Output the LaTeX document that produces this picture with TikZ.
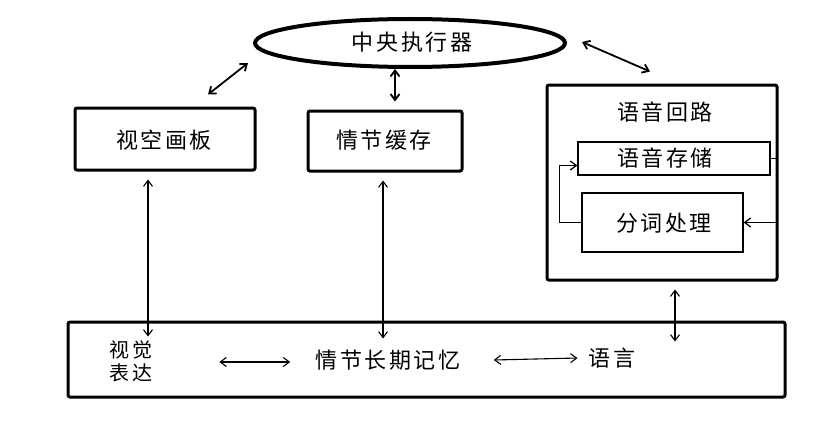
\documentclass[tikz,border=0pt]{standalone}
\usepackage{fontspec}
\newfontfamily\cjk[LetterSpace=12]{Noto Sans CJK SC}
\usetikzlibrary{shapes.geometric,arrows.meta,calc}
\begin{document}
\begin{tikzpicture}[x=1pt,y=-1pt,
  box/.style={draw, line width=3pt, rectangle, inner sep=0pt, rounded corners=2pt},
  thinbox/.style={draw, line width=1.3pt, rectangle, inner sep=0pt},
  lbl/.style={font=\cjk\fontsize{22}{24}\selectfont, inner sep=1pt, align=center},
  tip/.tip={Straight Barb[length=6pt,width=9pt]},
  dbl/.style={{tip}-{tip}, line width=1.1pt},
  dblthick/.style={{tip}-{tip}, line width=1.8pt},
  one/.style={-{tip}, line width=1.3pt}]
\useasboundingbox (0,0) rectangle (813,420);
\fill[white] (0,0) rectangle (813,420);

% central executive
\node[draw, ellipse, line width=4pt, minimum width=310pt, minimum height=48pt, inner sep=0pt] (ce) at (410,43) {};
\node[lbl] (cetext) at (412,42) {中央执行器};

% visuospatial sketchpad
\node[box, minimum width=180pt, minimum height=62pt] (vis) at (165,139) {};
\node[lbl] (vistxt) at (164,140) {视空画板};

% episodic buffer
\node[box, minimum width=154pt, minimum height=60pt] (epi) at (385,141) {};
\node[lbl] (epitxt) at (384,140) {情节缓存};

% phonological loop
\node[box, minimum width=230pt, minimum height=195pt] (phon) at (662,182.5) {};
\node[lbl] (phontxt) at (665,112) {语音回路};
\node[thinbox, minimum width=192pt, minimum height=33pt] (store) at (674,158.5) {};
\node[lbl] (storetxt) at (665,158) {语音存储};
\node[thinbox, minimum width=161pt, minimum height=59pt] (proc) at (662.5,222.5) {};
\node[lbl] (proctxt) at (664,223) {分词处理};

% long-term memory
\node[box, minimum width=717pt, minimum height=75pt] (ltm) at (426.5,359.5) {};
\node[lbl, font=\cjk\fontsize{20}{23}\selectfont] (vrep) at (131,361) {视觉\\表达};
\node[lbl] (ltmtxt) at (388,360) {情节长期记忆};
\node[lbl] (lang) at (612,358) {语言};

% arrows central executive
\draw[dblthick] ([shift={(-162,20)}]ce.center) -- ([shift={(43,-12)}]vis.north);
\draw[dblthick] ([shift={(-15,0)}]ce.south) -- ([shift={(10,-8)}]epi.north);
\draw[dblthick] ([shift={(15,-1)}]ce.east) -- ([shift={(-12,-12)}]phon.north);

% vertical arrows to long-term memory
\draw[dbl] ([shift={(-17,8)}]vis.south) -- ([shift={(-278.5,16)}]ltm.north);
\draw[dbl] ([shift={(-2,8)}]epi.south) -- ([shift={(-43.5,18)}]ltm.north);
\draw[dbl] ([shift={(13,8)}]phon.south) -- ([shift={(248.5,21)}]ltm.north);

% arrows inside long-term memory
\draw[dbl] ([shift={(66,1)}]vrep.east) -- ([shift={(-24,2)}]ltmtxt.west);
\draw[dbl] ([shift={(32,0)}]ltmtxt.east) -- ([shift={(-10,0)}]lang.west);

% loop arrows
\draw[one] (proc.west) -- ++(-22,0) |- ($(store.west)+(0,7)$);
\draw[one] (store.east) -- ++(6,0) |- (proc.east);
\end{tikzpicture}
\end{document}
